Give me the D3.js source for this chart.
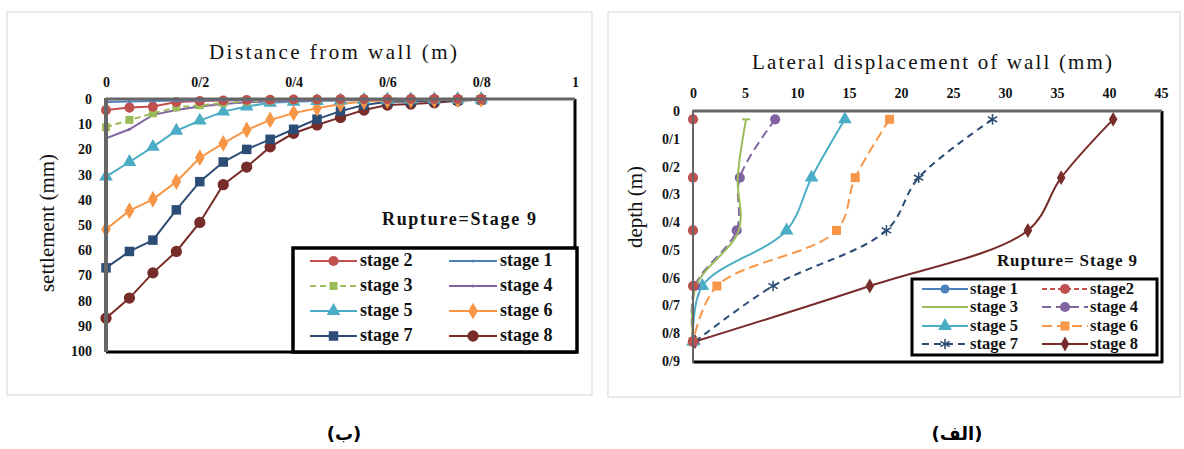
<!DOCTYPE html>
<html><head><meta charset="utf-8">
<script src="https://cdn.jsdelivr.net/npm/d3@7/dist/d3.min.js"></script>
<style>body{margin:0;background:#fff}svg{display:block}
svg text{font-family:"Liberation Serif","Times New Roman","DejaVu Serif",serif;}
svg text.cap{font-family:"DejaVu Sans","Noto Sans",sans-serif;}
</style>
</head><body>
<svg id="c" width="1184" height="449"></svg>
<script>
// ---------- DATA ----------
// Left chart (ب): settlement vs distance from wall
const distance = [0,0.05,0.1,0.15,0.2,0.25,0.3,0.35,0.4,0.45,0.5,0.55,0.6,0.65,0.7,0.75,0.8];
const settleStage1 = [1.2,1,0.8,0.6,0.5,0.4,0.3,0.2,0.2,0.1,0.1,0.1,0,0,0,0,0];
const settleStage2 = [4.4,3.4,3,1.2,0.8,0.6,0.4,0.3,0.2,0.2,0.1,0.1,0.1,0,0,0,0];
const settleStage3 = [11.2,8.3,5.7,3.3,2.5,1.6,1,0.6,0.4,0.3,0.2,0.2,0.1,0.1,0.1,0.1,0];
const settleStage4 = [15.6,12,6.3,4.4,3,2,1.3,1,0.8,0.6,0.5,0.4,0.3,0.2,0.2,0.1,0.1];
const settleStage5 = [30.8,25,19,12.6,8.6,5,3,1.5,1.1,0.8,0.6,0.4,0.3,0.2,0.2,0.1,0.1];
const settleStage6 = [51.7,44.3,39.8,32.8,23.3,17.6,12.3,8.3,5.6,3.7,2,1,0.6,0.4,0.3,0.2,0.1];
const settleStage7 = [67,60.5,56,44,32.8,25,20,16,12,8,4.8,2.4,1.1,1,0.6,0.5,0.3];
const settleStage8 = [87,79,69,60.5,49,34,27,19,13.6,10.3,7.3,4.4,2.4,2,1.5,0.7,0.3];
const leftXTicks = [0,0.2,0.4,0.6,0.8,1];
const leftXTickLabels = ["0","0/2","0/4","0/6","0/8","1"];
const leftYTicks = [0,10,20,30,40,50,60,70,80,90,100];

// Right chart (الف): depth vs lateral displacement
const depth = [0.03,0.24,0.43,0.63,0.83];
const dispStage1 = [0,0,0,0,0];
const dispStage2 = [0,0,0,0,0];
const dispStage3 = [5.1,4.3,4.4,0.3,0];
const dispStage4 = [7.9,4.5,4.2,0.2,0];
const dispStage5 = [14.6,11.4,9,0.9,0];
const dispStage6 = [18.9,15.6,13.8,2.3,0];
const dispStage7 = [28.8,21.7,18.6,7.7,0.2];
const dispStage8 = [40.4,35.4,32.2,17,0.2];
const rightXTicks = [0,5,10,15,20,25,30,35,40,45];
const rightYTicks = [0,0.1,0.2,0.3,0.4,0.5,0.6,0.7,0.8,0.9];
const rightYTickLabels = ["0","0/1","0/2","0/3","0/4","0/5","0/6","0/7","0/8","0/9"];

const stageNames = ["stage 1","stage 2","stage 3","stage 4","stage 5","stage 6","stage 7","stage 8"];
const stageColors = ["#4F81BD","#C0504D","#9BBB59","#8064A2","#4BACC6","#F79646","#2C4D75","#772C2A"];

// ---------- DRAW ----------
const svg = d3.select("#c");

svg.append("rect").attr("x",7).attr("y",12).attr("width",585).attr("height",383)
  .attr("fill","none").attr("stroke","#e2e2e2").attr("stroke-width",1.5);
svg.append("rect").attr("x",608).attr("y",12).attr("width",572).attr("height",385)
  .attr("fill","none").attr("stroke","#e2e2e2").attr("stroke-width",1.5);

function marker(g, type, color, x, y, size){
  if(type==="none") return;
  if(type==="dot"){ g.append("circle").attr("cx",x).attr("cy",y).attr("r",size).attr("fill",color); return; }
  if(type==="asterisk"){
    g.append("path").attr("transform",`translate(${x},${y})`)
      .attr("d",d3.symbol(d3.symbolAsterisk, size*size)() ).attr("fill","none").attr("stroke",color).attr("stroke-width",1.5);
    return;
  }
  if(type==="cap"){
    g.append("line").attr("x1",x-size).attr("x2",x+size).attr("y1",y).attr("y2",y).attr("stroke",color).attr("stroke-width",2);
    return;
  }
  const sym = {circle:d3.symbolCircle, square:d3.symbolSquare, triangle:d3.symbolTriangle, diamond:d3.symbolDiamond}[type];
  g.append("path").attr("transform",`translate(${x},${y})`)
    .attr("d",d3.symbol(sym, size*size)()).attr("fill",color);
}

// ===== LEFT CHART =====
(function(){
  const x = d3.scaleLinear().domain([0,1]).range([106,575]);
  const y = d3.scaleLinear().domain([0,100]).range([99,351]);
  const g = svg.append("g");
  g.append("line").attr("x1",575).attr("x2",575).attr("y1",99).attr("y2",352).attr("stroke","#000").attr("stroke-width",3);
  g.append("line").attr("x1",106).attr("x2",576).attr("y1",352).attr("y2",352).attr("stroke","#000").attr("stroke-width",3);
  const ax = g.append("g").attr("transform","translate(0,99)")
    .call(d3.axisTop(x).tickValues(leftXTicks).tickFormat((d,i)=>leftXTickLabels[i]).tickSize(0).tickPadding(12));
  const ay = g.append("g").attr("transform","translate(106,0)")
    .call(d3.axisLeft(y).tickValues(leftYTicks).tickSize(0).tickPadding(14));
  [ax,ay].forEach(a=>{ a.select(".domain").remove(); a.attr("font-family",null);
    a.selectAll("text").attr("font-weight","bold").attr("font-size",14).attr("fill","#111"); });

  const series = [settleStage1,settleStage2,settleStage3,settleStage4,settleStage5,settleStage6,settleStage7,settleStage8];
  const mk = [["dot",1.5],["circle",9],["square",8],["dot",1.5],["triangle",9],["diamond",9],["square",9.5],["circle",10]];
  const dash = [null,null,"6,4",null,null,null,null,null];
  const line = d3.line().x((d,i)=>x(distance[i])).y(d=>y(d));
  [7,6,5,4,3,2,1,0].forEach(s=>{
    const gs = g.append("g");
    gs.append("path").attr("d",line(series[s])).attr("fill","none").attr("stroke",stageColors[s]).attr("stroke-width",2)
      .attr("stroke-dasharray",dash[s]);
    series[s].forEach((v,i)=>marker(gs,mk[s][0],stageColors[s],x(distance[i]),y(v),mk[s][1]));
  });
  g.append("line").attr("x1",106).attr("x2",575).attr("y1",99).attr("y2",99).attr("stroke","#666").attr("stroke-width",3);
  g.append("line").attr("x1",106).attr("x2",106).attr("y1",98).attr("y2",352).attr("stroke","#666").attr("stroke-width",4);

  g.append("text").attr("x",333).attr("y",59).attr("text-anchor","middle")
    .attr("font-size",21).attr("textLength",248).attr("lengthAdjust","spacing").attr("fill","#111").text("Distance from wall (m)");
  g.append("text").attr("transform","translate(54,223) rotate(-90)").attr("text-anchor","middle")
    .attr("font-size",21).attr("fill","#111").text("settlement (mm)");
  g.append("text").attr("x",459).attr("y",225).attr("text-anchor","middle").attr("font-weight","bold")
    .attr("font-size",18).attr("textLength",154).attr("lengthAdjust","spacing").attr("fill","#111").text("Rupture=Stage 9");

  const lg = g.append("g");
  lg.append("rect").attr("x",293).attr("y",248).attr("width",284).attr("height",104).attr("fill","#fff").attr("stroke","#000").attr("stroke-width",3.5);
  const legOrder = [[1,0],[2,3],[4,5],[6,7]];
  const rowsY = [261,286,311,336];
  const colX = [[310,357,360],[449,497,500]];
  legOrder.forEach((row,r)=>row.forEach((s,c)=>{
    const [x1,x2,tx] = colX[c];
    lg.append("line").attr("x1",x1).attr("x2",x2).attr("y1",rowsY[r]).attr("y2",rowsY[r]).attr("stroke",stageColors[s]).attr("stroke-width",2)
      .attr("stroke-dasharray",dash[s]);
    marker(lg,mk[s][0],stageColors[s],(x1+x2)/2,rowsY[r],mk[s][1]);
    lg.append("text").attr("x",tx).attr("y",rowsY[r]+5).attr("font-weight","bold").attr("font-size",18)
      .attr("fill","#111").text(stageNames[s]);
  }));
})();

// ===== RIGHT CHART =====
(function(){
  const x = d3.scaleLinear().domain([0,45]).range([693,1161]);
  const y = d3.scaleLinear().domain([0,0.9]).range([111,361]);
  const g = svg.append("g");
  g.append("line").attr("x1",1162).attr("x2",1162).attr("y1",111).attr("y2",363).attr("stroke","#000").attr("stroke-width",3);
  g.append("line").attr("x1",693).attr("x2",1163).attr("y1",362).attr("y2",362).attr("stroke","#000").attr("stroke-width",3);
  const ax = g.append("g").attr("transform","translate(0,111)")
    .call(d3.axisTop(x).tickValues(rightXTicks).tickSize(0).tickPadding(13));
  const ay = g.append("g").attr("transform","translate(693,0)")
    .call(d3.axisLeft(y).tickValues(rightYTicks).tickFormat((d,i)=>rightYTickLabels[i]).tickSize(0).tickPadding(13));
  [ax,ay].forEach(a=>{ a.select(".domain").remove(); a.attr("font-family",null);
    a.selectAll("text").attr("font-weight","bold").attr("font-size",14).attr("fill","#111"); });

  const series = [dispStage1,dispStage2,dispStage3,dispStage4,dispStage5,dispStage6,dispStage7,dispStage8];
  const mk = [["circle",8],["circle",9],["cap",4],["circle",9],["triangle",9],["square",9],["asterisk",9],["diamond",8]];
  const dash = [null,"5,3",null,"9,5",null,"10,5","7,5",null];
  const line = d3.line().x(d=>x(d)).y((d,i)=>y(depth[i])).curve(d3.curveCatmullRom.alpha(0.5));
  [7,6,5,4,3,2,0,1].forEach(s=>{
    const gs = g.append("g");
    gs.append("path").attr("d",line(series[s])).attr("fill","none").attr("stroke",stageColors[s]).attr("stroke-width",2)
      .attr("stroke-dasharray",dash[s]);
    series[s].forEach((v,i)=>{
      if(mk[s][0]==="cap" && i>0) return;
      marker(gs,mk[s][0],stageColors[s],x(v),y(depth[i]),mk[s][1]);
    });
  });
  g.append("line").attr("x1",693).attr("x2",1162).attr("y1",111).attr("y2",111).attr("stroke","#666").attr("stroke-width",3);
  g.append("line").attr("x1",693).attr("x2",693).attr("y1",110).attr("y2",363).attr("stroke","#666").attr("stroke-width",2);

  g.append("text").attr("x",932).attr("y",69).attr("text-anchor","middle")
    .attr("font-size",21).attr("textLength",360).attr("lengthAdjust","spacing").attr("fill","#111").text("Lateral displacement of wall (mm)");
  g.append("text").attr("transform","translate(642,207) rotate(-90)").attr("text-anchor","middle")
    .attr("font-size",21).attr("fill","#111").text("depth (m)");
  g.append("text").attr("x",1067).attr("y",266).attr("text-anchor","middle").attr("font-weight","bold")
    .attr("font-size",17).attr("textLength",140).attr("lengthAdjust","spacing").attr("fill","#111").text("Rupture= Stage 9");

  const lg = g.append("g");
  lg.append("rect").attr("x",912).attr("y",279).attr("width",245).attr("height",76).attr("fill","#fff").attr("stroke","#000").attr("stroke-width",3);
  const legOrder = [[0,1],[2,3],[4,5],[6,7]];
  const labels = ["stage 1","stage2","stage 3","stage 4","stage 5","stage 6","stage 7","stage 8"];
  const rowsY = [289,307,326,344];
  const colX = [[922,968,970],[1042,1088,1090]];
  legOrder.forEach((row,r)=>row.forEach((s,c)=>{
    const [x1,x2,tx] = colX[c];
    lg.append("line").attr("x1",x1).attr("x2",x2).attr("y1",rowsY[r]).attr("y2",rowsY[r]).attr("stroke",stageColors[s]).attr("stroke-width",2)
      .attr("stroke-dasharray",dash[s]);
    if(mk[s][0]!=="cap") marker(lg,mk[s][0],stageColors[s],(x1+x2)/2,rowsY[r],mk[s][1]);
    lg.append("text").attr("x",tx).attr("y",rowsY[r]+5).attr("font-weight","bold").attr("font-size",16.5)
      .attr("fill","#111").text(labels[s]);
  }));
})();

svg.append("text").attr("class","cap").attr("x",344).attr("y",440).attr("text-anchor","middle")
  .attr("font-weight","bold").attr("font-size",18).attr("fill","#000").text("(ب)");
svg.append("text").attr("class","cap").attr("x",957).attr("y",440).attr("text-anchor","middle")
  .attr("font-weight","bold").attr("font-size",18).attr("fill","#000").text("(الف)");
</script>
</body></html>
